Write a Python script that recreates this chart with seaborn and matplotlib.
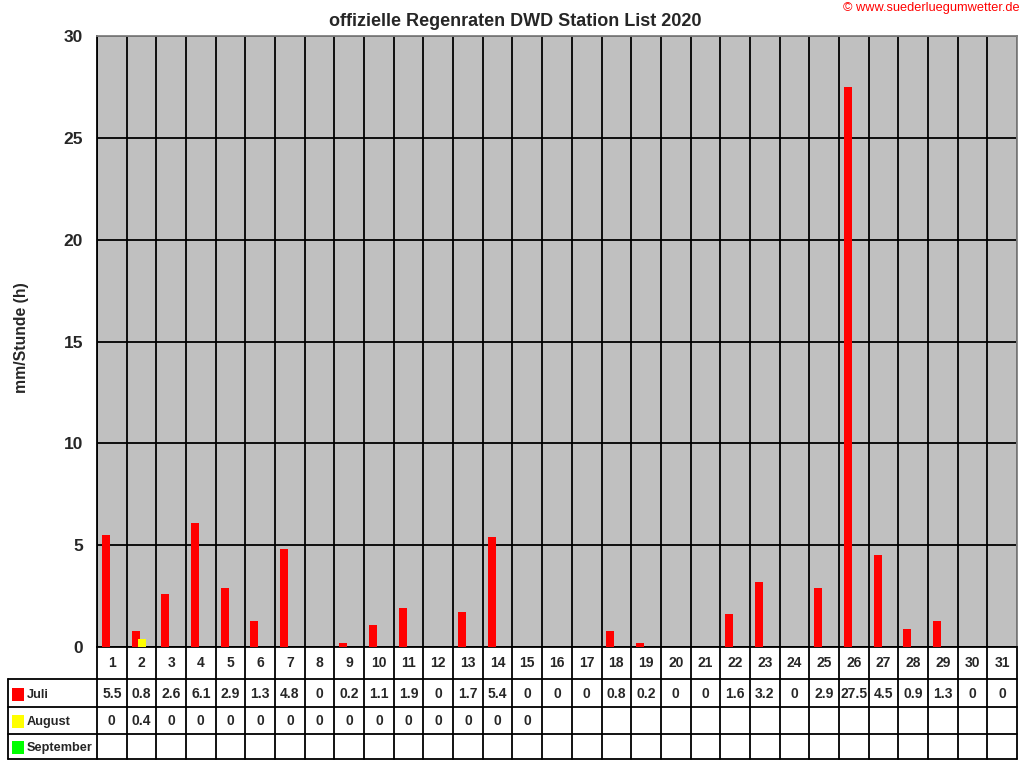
import numpy as np
import pandas as pd
import seaborn as sns
import matplotlib
matplotlib.use("Agg")
import matplotlib.pyplot as plt
from matplotlib.transforms import blended_transform_factory
from matplotlib.patches import Rectangle
from matplotlib.lines import Line2D

# ---------------- data ----------------
days = list(range(1, 32))
juli = [5.5, 0.8, 2.6, 6.1, 2.9, 1.3, 4.8, 0, 0.2, 1.1, 1.9, 0, 1.7, 5.4, 0,
        0, 0, 0.8, 0.2, 0, 0, 1.6, 3.2, 0, 2.9, 27.5, 4.5, 0.9, 1.3, 0, 0]
august = [0, 0.4, 0, 0, 0, 0, 0, 0, 0, 0, 0, 0, 0, 0, 0]
september = []
series_names = ["Juli", "August", "September"]
series_values = [juli, august, september]
series_colors = ["#FF0000", "#FFFF00", "#00FF00"]
y_ticks = [0, 5, 10, 15, 20, 25, 30]
title = "offizielle Regenraten DWD Station List 2020"
copyright_text = "© www.suederluegumwetter.de"
y_label = "mm/Stunde (h)"

# ---------------- style ----------------
sns.set_style("white")
plt.rcParams["font.family"] = ["Liberation Sans", "DejaVu Sans"]

W, H = 1024, 768
fig = plt.figure(figsize=(W / 100, H / 100), dpi=100)

# overlay axes in pixel coordinates for table / texts
tab = fig.add_axes([0, 0, 1, 1])
tab.set_xlim(0, W)
tab.set_ylim(H, 0)
tab.axis("off")

left, right, top, bottom = 97, 1017, 36, 647
ax = fig.add_axes([left / W, 1 - bottom / H, (right - left) / W, (bottom - top) / H])

offsets = [-0.2, 0.0, 0.2]
for name, vals, col, off in zip(series_names, series_values, series_colors, offsets):
    if len(vals) == 0:
        continue
    df = pd.DataFrame({"pos": np.array(days[:len(vals)], dtype=float) + off,
                       "val": vals})
    sns.barplot(data=df, x="pos", y="val", native_scale=True, width=0.27,
                color=col, saturation=1, errorbar=None, ax=ax,
                edgecolor="none", linewidth=0, zorder=3)

ax.set_facecolor("#C0C0C0")
ax.set_xlim(0.5, 31.5)
ax.set_ylim(0, 30)
ax.set_xlabel("")
ax.set_ylabel("")
ax.set_xticks(np.arange(0.5, 32, 1))
ax.set_xticklabels([])
ax.set_yticks(y_ticks)
ax.set_yticklabels([str(t) for t in y_ticks], fontsize=12.5, fontweight="bold")
ax.tick_params(axis="x", length=0)
ax.tick_params(axis="y", direction="out", length=6, width=1.2, color="black", pad=4)
ax.grid(True, axis="both", color="black", linewidth=1.3)
ax.set_axisbelow(True)
for s in ["left", "bottom"]:
    ax.spines[s].set_color("black")
    ax.spines[s].set_linewidth(1.3)
for s in ["top", "right"]:
    ax.spines[s].set_color("#808080")
    ax.spines[s].set_linewidth(1.3)

# titles
tab.text(515, 22, title, ha="center", va="center", fontsize=13, fontweight="bold")
tab.text(1020, 8, copyright_text, ha="right", va="center", fontsize=9.2, color="#FF0000")
tab.text(22, 338, y_label, ha="center", va="center", rotation=90, fontsize=11.3,
         fontweight="bold")

# ---------------- data table ----------------
bt = blended_transform_factory(ax.transData, tab.transData)
row_day_y, row_lines = 663, [679, 707, 734, 759]
row_centers = [694, 721, 747]
lw = 1.3
# horizontal lines
for yl in row_lines:
    tab.add_line(Line2D([8, right], [yl, yl], color="black", lw=lw))
# vertical lines
tab.add_line(Line2D([8, 8], [679, 759], color="black", lw=lw))
for b in np.arange(0.5, 32, 1):
    tab.add_line(Line2D([b, b], [bottom, 759], color="black", lw=lw, transform=bt))

for d in days:
    tab.text(d, row_day_y, str(d), ha="center", va="center", fontsize=10,
             fontweight="bold", transform=bt)

for i, (name, vals, col) in enumerate(zip(series_names, series_values, series_colors)):
    yc = row_centers[i]
    tab.add_patch(Rectangle((12, yc - 6.5), 12, 13, facecolor=col, edgecolor="none"))
    tab.text(27, yc + 0.5, name, ha="left", va="center", fontsize=9.2, fontweight="bold")
    for d, v in zip(days, vals):
        tab.text(d, yc, f"{v:g}", ha="center", va="center", fontsize=10,
                 fontweight="bold", transform=bt)

fig.savefig("out.png", dpi=100, facecolor="white")
